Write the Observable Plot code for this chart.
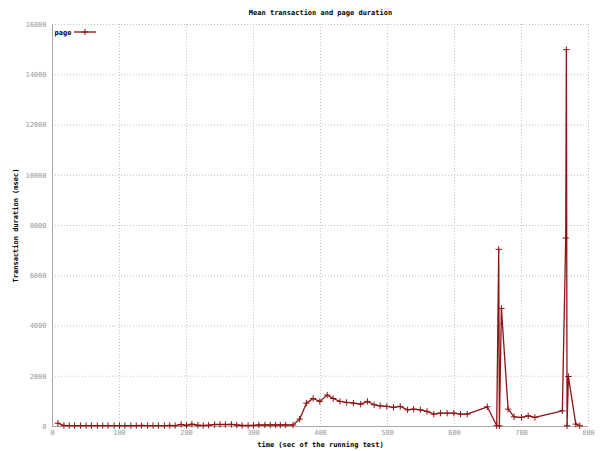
<!DOCTYPE html>
<html>
<head>
<meta charset="utf-8">
<script src="https://cdn.jsdelivr.net/npm/d3@7"></script>
<script src="https://cdn.jsdelivr.net/npm/@observablehq/plot@0.6"></script>
<style>
  html, body { margin: 0; padding: 0; background: #fff; }
</style>
</head>
<body>
<div id="chart"></div>
<script>
const title = "Mean transaction and page duration";
const xLabel = "time (sec of the running test)";
const yLabel = "Transaction duration (msec)";
const seriesName = "page";
const xTicks = [0, 100, 200, 300, 400, 500, 600, 700, 800];
const yTicks = [0, 2000, 4000, 6000, 8000, 10000, 12000, 14000, 16000];

const times = [
  8, 17, 25, 33, 42, 50, 58, 67, 75, 83, 92, 100, 108, 117, 125, 133, 142, 150, 158, 167,
  175, 183, 192, 200, 208, 217, 225, 233, 242, 250, 258, 267, 275, 283, 292, 300, 308, 317,
  325, 333, 340, 348, 359, 369, 379, 389, 399, 410, 419, 429, 439, 449, 460, 470, 480, 489,
  499, 509, 519, 530, 539, 549, 559, 569, 579, 589, 599, 609, 619, 649, 663, 666, 667, 670,
  680, 689, 700, 710, 720, 761, 766, 767, 768, 770, 781, 787
];
const durations = [
  130, 40, 35, 35, 35, 35, 35, 35, 35, 35, 35, 35, 35, 35, 35, 40, 35, 35, 35, 35,
  40, 35, 80, 45, 90, 50, 40, 50, 80, 80, 80, 85, 60, 40, 40, 45, 60, 60,
  60, 60, 60, 60, 60, 295, 930, 1115, 1000, 1250, 1115, 1000, 960, 930, 890, 1000, 865, 825,
  800, 760, 800, 665, 690, 665, 600, 495, 530, 530, 530, 495, 495, 785, 30, 7050, 30, 4700,
  690, 385, 360, 425, 360, 625, 7500, 15000, 30, 1990, 95, 30
];

const data = times.map((t, i) => ({t, v: durations[i]}));
const red = "#8b1414";
const font = "'DejaVu Sans Mono', 'Liberation Mono', monospace";

const chart = Plot.plot({
  width: 600,
  height: 451,
  marginLeft: 52,
  marginRight: 12,
  marginTop: 24,
  marginBottom: 25,
  style: {fontFamily: font, fontSize: "7px", background: "#fff", color: "#000"},
  x: {domain: [0, 800], label: null},
  y: {domain: [0, 16000], label: null},
  marks: [
    Plot.gridX(xTicks, {stroke: "#c4c4c4", strokeOpacity: 1, strokeDasharray: "1,2"}),
    Plot.gridY(yTicks, {stroke: "#c4c4c4", strokeOpacity: 1, strokeDasharray: "1,2"}),
    Plot.axisX({ticks: xTicks, tickSize: 0, tickPadding: 4, fill: "#999", label: null, tickFormat: d => String(d)}),
    Plot.axisY({ticks: yTicks, tickSize: 0, tickPadding: 6, fill: "#999", label: null, tickFormat: d => String(d)}),
    Plot.ruleX([0], {stroke: "#a8a8a8", strokeWidth: 1}),
    Plot.ruleY([0], {stroke: "#a8a8a8", strokeWidth: 1}),
    Plot.line(data, {x: "t", y: "v", stroke: red, strokeWidth: 1.3}),
    Plot.dot(data, {x: "t", y: "v", symbol: "plus", r: 2.2, stroke: red, strokeWidth: 1}),
    Plot.text([title], {frameAnchor: "top", dy: -12, fontWeight: "bold", fill: "#000", lineAnchor: "middle"}),
    Plot.text([xLabel], {frameAnchor: "bottom", dy: 18, fontWeight: "bold", fill: "#000", lineAnchor: "middle"}),
    Plot.text([yLabel], {frameAnchor: "left", dx: -37, rotate: -90, fontWeight: "bold", fill: "#000", textAnchor: "middle", lineAnchor: "middle"}),
    Plot.text([seriesName], {frameAnchor: "top-left", dx: 2, dy: 8, fontWeight: "bold", fill: "#000", textAnchor: "start", lineAnchor: "middle"})
  ]
});

// Legend sample line with marker
const svg = d3.select(chart);
const lg = svg.append("g").attr("stroke", red);
lg.append("line").attr("x1", 74).attr("x2", 96).attr("y1", 32).attr("y2", 32).attr("stroke-width", 1.3);
lg.append("path").attr("d", d3.symbol(d3.symbolPlus, Math.PI * 2.2 * 2.2)()).attr("transform", "translate(85,32)").attr("fill", "none");

document.getElementById("chart").appendChild(chart);
</script>
</body>
</html>
